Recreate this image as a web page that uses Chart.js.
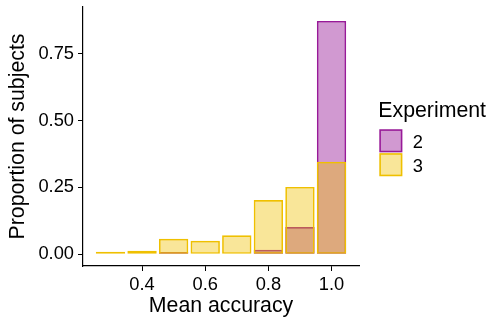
<!DOCTYPE html>
<html><head><meta charset="utf-8">
<script src="https://cdn.jsdelivr.net/npm/chart.js@4/dist/chart.umd.min.js"></script>
<style>html,body{margin:0;padding:0;background:#fff}</style>
</head><body>
<canvas id="c" width="491" height="320" style="display:block;width:491px;height:320px"></canvas>
<script>
// ---- data ----
const binCenters = [0.3, 0.4, 0.5, 0.6, 0.7, 0.8, 0.9, 1.0];
const exp2Values = [0, 0, 0.009, 0, 0, 0.017, 0.102, 0.872];
const exp3Values = [0.004, 0.013, 0.058, 0.051, 0.071, 0.203, 0.252, 0.346];
const seriesLabels = ['2', '3'];
const xTickValues = [0.4, 0.6, 0.8, 1.0];
const yTickValues = [0, 0.25, 0.5, 0.75];
const xTitle = 'Mean accuracy';
const yTitle = 'Proportion of subjects';
const legendTitle = 'Experiment';

const FAMILY = "'Liberation Sans', Arial, Helvetica, sans-serif";
const TICK_SIZE = 18.3, TITLE_SIZE = 21.3;

const toPoints = vals => binCenters.map((x, i) => ({x: x, y: vals[i]}));

const legendPlugin = {
  id: 'expLegend',
  afterDraw(chart) {
    const ctx = chart.ctx;
    ctx.save();
    ctx.textAlign = 'left';
    ctx.textBaseline = 'alphabetic';
    ctx.fillStyle = '#000';
    ctx.font = TITLE_SIZE + 'px ' + FAMILY;
    ctx.fillText(legendTitle, 378.3, 117);
    [0, 1].forEach((di, k) => {
      const ds = chart.data.datasets[di];
      const y = 130.05 + k * 23.9;
      ctx.fillStyle = '#fff';
      ctx.fillRect(380.1, y, 21.5, 21.5);
      ctx.fillStyle = ds.backgroundColor;
      ctx.fillRect(380.1, y, 21.5, 21.5);
      ctx.strokeStyle = ds.borderColor;
      ctx.lineWidth = 1.6;
      ctx.strokeRect(380.1, y, 21.5, 21.5);
      ctx.fillStyle = '#000';
      ctx.font = TICK_SIZE + 'px ' + FAMILY;
      ctx.fillText(ds.label, 412.8, y + 18);
    });
    ctx.restore();
  }
};

new Chart(document.getElementById('c'), {
  type: 'bar',
  data: {
    datasets: [
      {
        label: seriesLabels[0], data: toPoints(exp2Values),
        backgroundColor: 'rgba(139,0,139,0.4)', borderColor: '#981A98',
        borderWidth: 1.7, borderSkipped: false, grouped: false, order: 1
      },
      {
        label: seriesLabels[1], data: toPoints(exp3Values),
        backgroundColor: 'rgba(239,192,0,0.4)', borderColor: '#EFC000',
        borderWidth: 1.7, borderSkipped: false, grouped: false, order: 0,
        minBarLength: 2.5
      }
    ]
  },
  options: {
    responsive: false, animation: false, devicePixelRatio: 1,
    barPercentage: 0.93, categoryPercentage: 1,
    layout: {padding: {top: 7, right: 132, left: 0, bottom: 0}},
    plugins: {legend: {display: false}, tooltip: {enabled: false}},
    scales: {
      x: {
        type: 'linear', min: 0.213, max: 1.087, offset: false,
        afterBuildTicks: s => { s.ticks = xTickValues.map(v => ({value: v})); },
        afterFit: s => { s.height = 54; s.paddingLeft = 0; s.paddingRight = 0; },
        ticks: {callback: v => Number(v).toFixed(1), color: '#000', font: {size: TICK_SIZE, family: FAMILY}, padding: 3, maxRotation: 0, autoSkip: false},
        grid: {display: true, offset: false, drawOnChartArea: false, tickLength: 5, color: '#000', lineWidth: 1},
        border: {display: true, color: '#000', width: 1.2},
        title: {display: true, text: xTitle, color: '#000', font: {size: TITLE_SIZE, family: FAMILY}, padding: {top: 0, bottom: 1}}
      },
      y: {
        type: 'linear', min: -0.0435, max: 0.924,
        afterBuildTicks: s => { s.ticks = yTickValues.map(v => ({value: v})); },
        afterFit: s => { s.width = 83; s.paddingTop = 0; s.paddingBottom = 0; },
        ticks: {callback: v => Number(v).toFixed(2), color: '#000', font: {size: TICK_SIZE, family: FAMILY}, padding: 4},
        grid: {display: true, offset: false, drawOnChartArea: false, tickLength: 5, color: '#000', lineWidth: 1},
        border: {display: true, color: '#000', width: 1.2},
        title: {display: true, text: yTitle, color: '#000', font: {size: TITLE_SIZE, family: FAMILY}, padding: {top: 5.5, bottom: 0}}
      }
    }
  },
  plugins: [legendPlugin]
});
</script>
</body></html>
